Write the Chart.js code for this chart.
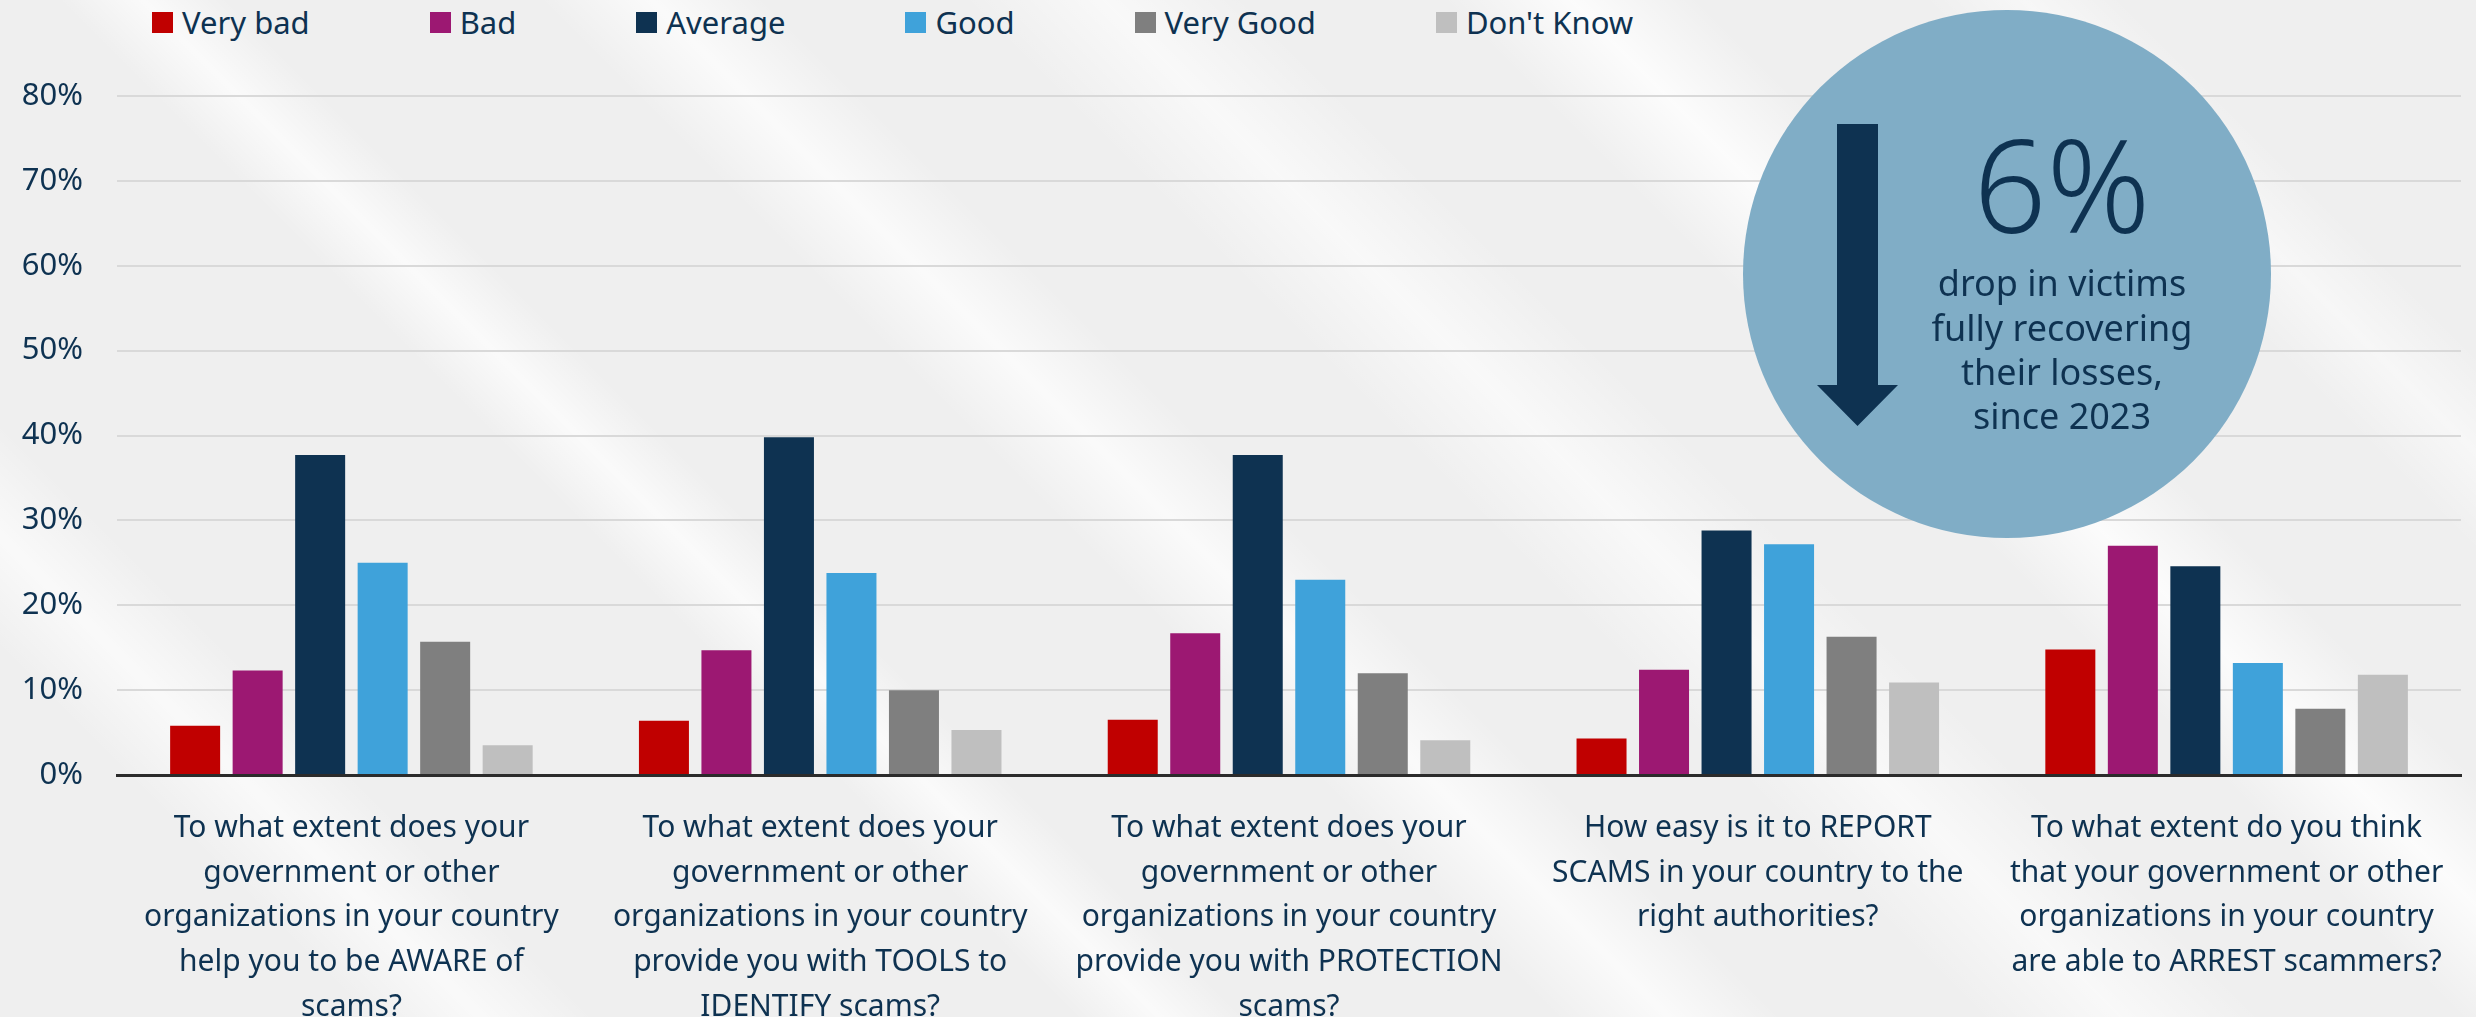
<!DOCTYPE html>
<html>
<head>
<meta charset="utf-8">
<script src="https://cdn.jsdelivr.net/npm/chart.js@4.4.1/dist/chart.umd.min.js"></script>
<style>
  html, body { margin: 0; padding: 0; }
  body {
    width: 2476px;
    height: 1017px;
    position: relative;
    overflow: hidden;
    font-family: "Noto Sans", sans-serif;
    background-color: #efefef;
    background-image: linear-gradient(45deg,
      rgba(255,255,255,0) 260px, rgba(255,255,255,0.65) 340px, rgba(255,255,255,0) 420px,
      rgba(255,255,255,0) 760px, rgba(255,255,255,0.7) 820px, rgba(255,255,255,0) 880px,
      rgba(255,255,255,0) 1100px, rgba(255,255,255,0.7) 1180px, rgba(255,255,255,0) 1260px,
      rgba(255,255,255,0) 1400px, rgba(255,255,255,0.6) 1500px, rgba(255,255,255,0) 1600px,
      rgba(255,255,255,0) 1740px, rgba(255,255,255,0.8) 1830px, rgba(255,255,255,0) 1920px,
      rgba(255,255,255,0) 2080px, rgba(255,255,255,0.5) 2150px, rgba(255,255,255,0) 2220px);
  }
  #legend {
    position: absolute;
    left: 152px;
    top: 7px;
    height: 31px;
    display: flex;
    align-items: center;
    gap: 120px;
    color: #0e3251;
    font-size: 31px;
    line-height: 31px;
  }
  #legend .item { display: flex; align-items: center; white-space: nowrap; }
  #legend .box { width: 21px; height: 21px; margin-right: 9px; }
  canvas { position: absolute; left: 0; top: 0; }
</style>
</head>
<body>
<div id="legend"></div>
<canvas id="myChart" width="2476" height="1017"></canvas>
<script>
// survey questions (one group of bars each)
const questions = [
  ["To what extent does your", "government or other", "organizations in your country", "help you to be AWARE of", "scams?"],
  ["To what extent does your", "government or other", "organizations in your country", "provide you with TOOLS to", "IDENTIFY scams?"],
  ["To what extent does your", "government or other", "organizations in your country", "provide you with PROTECTION", "scams?"],
  ["How easy is it to REPORT", "SCAMS in your country to the", "right authorities?"],
  ["To what extent do you think", "that your government or other", "organizations in your country", "are able to ARREST scammers?"]
];

const answers = ["Very bad", "Bad", "Average", "Good", "Very Good", "Don't Know"];
const answerColors = ["#c00000", "#9c1872", "#0e3251", "#3fa2da", "#7f7f7f", "#bfbfbf"];

// share of respondents, %
const veryBad  = [5.8, 6.4, 6.5, 4.3, 14.8];
const bad      = [12.3, 14.7, 16.7, 12.4, 27.0];
const average  = [37.7, 39.8, 37.7, 28.8, 24.6];
const good     = [25.0, 23.8, 23.0, 27.2, 13.2];
const veryGood = [15.7, 10.0, 12.0, 16.3, 7.8];
const dontKnow = [3.5, 5.3, 4.1, 10.9, 11.8];

const yTicks = [0, 10, 20, 30, 40, 50, 60, 70, 80];

const textColor = "#0e3251";

// callout text
const calloutBig = "6%";
const calloutLines = ["drop in victims", "fully recovering", "their losses,", "since 2023"];

// legend
let legendDiv = document.getElementById("legend");
answers.forEach(function(name, i) {
  let item = document.createElement("div");
  item.className = "item";
  let box = document.createElement("span");
  box.className = "box";
  box.style.background = answerColors[i];
  let label = document.createElement("span");
  label.textContent = name;
  item.appendChild(box);
  item.appendChild(label);
  legendDiv.appendChild(item);
});

// blue circle with the down arrow and the 6% note
const calloutPlugin = {
  id: "callout",
  afterDatasetsDraw(chart) {
    const c = chart.ctx;
    c.save();
    c.fillStyle = "#80adc6";
    c.beginPath();
    c.arc(2007, 274, 264, 0, Math.PI * 2);
    c.fill();

    c.fillStyle = textColor;
    c.beginPath();
    c.moveTo(1837, 124);
    c.lineTo(1878, 124);
    c.lineTo(1878, 385);
    c.lineTo(1898, 385);
    c.lineTo(1857.5, 426);
    c.lineTo(1817, 385);
    c.lineTo(1837, 385);
    c.closePath();
    c.fill();

    c.textAlign = "center";
    c.textBaseline = "alphabetic";
    c.font = '300 128px "Noto Sans"';
    c.fillText(calloutBig, 2062, 233);
    c.font = '36px "Noto Sans"';
    const baselines = [296, 341, 385, 429];
    calloutLines.forEach(function(line, i) {
      c.fillText(line, 2062, baselines[i]);
    });
    c.restore();
  }
};

const seriesValues = [veryBad, bad, average, good, veryGood, dontKnow];

function draw() {
  let ctx = document.getElementById("myChart").getContext("2d");
  let chart = new Chart(ctx, {
    type: "bar",
    data: {
      labels: questions,
      datasets: answers.map(function(name, i) {
        return {
          label: name,
          data: seriesValues[i],
          backgroundColor: answerColors[i],
          borderWidth: 0,
          barPercentage: 0.8,
          categoryPercentage: 0.8
        };
      })
    },
    options: {
      responsive: false,
      animation: false,
      layout: { padding: { top: 96, right: 15, left: 0, bottom: 0 } },
      plugins: {
        legend: { display: false },
        tooltip: { enabled: false }
      },
      scales: {
        x: {
          grid: { display: false },
          border: { display: true, color: "#2b2b2b", width: 3 },
          ticks: {
            color: textColor,
            font: { family: "Noto Sans", size: 30, lineHeight: 1.49 },
            padding: 23,
            maxRotation: 0,
            autoSkip: false
          },
          afterFit: function(scale) { scale.height = 242; }
        },
        y: {
          min: 0,
          max: 80,
          afterBuildTicks: function(scale) {
            scale.ticks = yTicks.map(function(v) { return { value: v }; });
          },
          grid: { color: "#d9d9d9", lineWidth: 2, drawTicks: false },
          border: { display: false },
          ticks: {
            color: textColor,
            font: { family: "Noto Sans", size: 31 },
            padding: 34,
            callback: function(v) { return v + "%"; }
          },
          afterFit: function(scale) { scale.width = 117; }
        }
      }
    },
    plugins: [calloutPlugin]
  });
}

document.fonts.load('30px "Noto Sans"').then(draw, draw);
</script>
</body>
</html>
